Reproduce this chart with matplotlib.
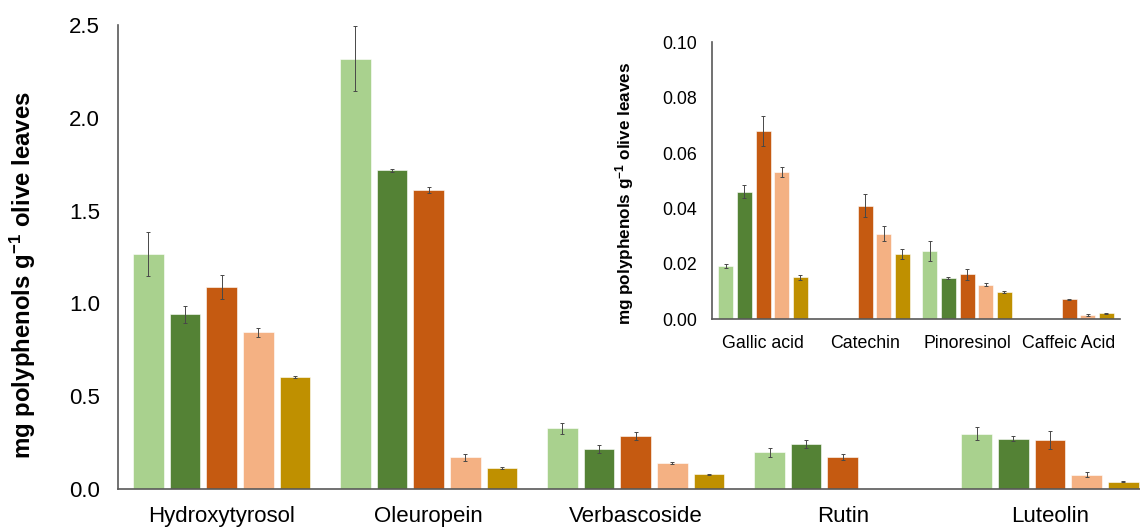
import numpy as np
import matplotlib
matplotlib.use("Agg")
import matplotlib.pyplot as plt

plt.rcParams['font.family'] = ['Liberation Sans', 'DejaVu Sans']
plt.rcParams['mathtext.fontset'] = 'custom'
plt.rcParams['mathtext.rm'] = 'Liberation Sans'
plt.rcParams['mathtext.bf'] = 'Liberation Sans:bold'

colors = ['#a9d18e', '#548235', '#c55a11', '#f4b183', '#bf9000']

# main chart
main_cats = ['Hydroxytyrosol', 'Oleuropein', 'Verbascoside', 'Rutin', 'Luteolin']
main_vals = [
    [1.267, 2.318, 0.327, 0.197, 0.298],
    [0.941, 1.716, 0.215, 0.244, 0.271],
    [1.086, 1.61, 0.286, 0.172, 0.266],
    [0.845, 0.172, 0.139, 0.0, 0.078],
    [0.605, 0.112, 0.08, 0.0, 0.04],
]
main_err = [
    [0.12, 0.175, 0.03, 0.022, 0.034],
    [0.045, 0.01, 0.022, 0.022, 0.015],
    [0.065, 0.015, 0.023, 0.016, 0.048],
    [0.025, 0.019, 0.004, 0.0, 0.012],
    [0.005, 0.004, 0.003, 0.0, 0.003],
]

# inset chart
ins_cats = ['Gallic acid', 'Catechin', 'Pinoresinol', 'Caffeic Acid']
ins_vals = [
    [0.0193, 0.0, 0.0248, 0.0],
    [0.0461, 0.0, 0.0150, 0.0],
    [0.0680, 0.0410, 0.0162, 0.0072],
    [0.0532, 0.0308, 0.0125, 0.0015],
    [0.0152, 0.0236, 0.0099, 0.0022],
]
ins_err = [
    [0.0007, 0.0, 0.0036, 0.0],
    [0.0022, 0.0, 0.0003, 0.0],
    [0.0053, 0.0042, 0.0019, 0.0002],
    [0.0018, 0.0027, 0.0006, 0.0003],
    [0.0009, 0.0017, 0.0004, 0.0001],
]

ylab = r'mg polyphenols g$\mathbf{^{-1}}$ olive leaves'
axis_col = '#595959'


def grouped(ax, cats, vals, errs, step, width, cap):
    x = np.arange(len(cats))
    for j in range(len(vals)):
        pos = x + (j - 2) * step
        ax.bar(pos, vals[j], width, color=colors[j], edgecolor='white', linewidth=0.4, zorder=2)
        e = np.array(errs[j])
        m = e > 0
        ax.errorbar(pos[m], np.array(vals[j])[m], yerr=e[m], fmt='none',
                    ecolor='#484848', elinewidth=0.7, capsize=cap, capthick=0.7, zorder=3)
    ax.set_xticks(x)
    ax.set_xticklabels(cats)
    for s in ['top', 'right']:
        ax.spines[s].set_visible(False)
    for s in ['left', 'bottom']:
        ax.spines[s].set_color(axis_col)
        ax.spines[s].set_linewidth(1.2)
    ax.tick_params(length=0)


fig = plt.figure(figsize=(11.4, 5.27), dpi=100)
ax = fig.add_axes([0.1035, 0.0721, 0.8965, 0.8805])
grouped(ax, main_cats, main_vals, main_err, 0.177, 0.148, 1.5)
ax.set_xlim(-0.5, 4.435)
ax.set_ylim(0, 2.5)
ax.set_yticks([0, 0.5, 1.0, 1.5, 2.0, 2.5])
ax.set_yticklabels(['0.0', '0.5', '1.0', '1.5', '2.0', '2.5'])
ax.tick_params(axis='y', labelsize=16, pad=13)
ax.tick_params(axis='x', labelsize=16, pad=12)
ax.set_ylabel(ylab, fontsize=17.3, fontweight='bold')
ax.yaxis.set_label_coords(-0.078, 0.461)

axi = fig.add_axes([0.6246, 0.394, 0.3579, 0.526])
axi.patch.set_alpha(0)
grouped(axi, ins_cats, ins_vals, ins_err, 0.183, 0.147, 1.2)
axi.set_xlim(-0.5, 3.5)
axi.set_ylim(0, 0.1)
axi.set_yticks([0, 0.02, 0.04, 0.06, 0.08, 0.10])
axi.set_yticklabels(['0.00', '0.02', '0.04', '0.06', '0.08', '0.10'])
axi.tick_params(axis='y', labelsize=12.8, pad=11)
axi.tick_params(axis='x', labelsize=12.8, pad=11)
axi.set_ylabel(ylab, fontsize=12.3, fontweight='bold')
axi.yaxis.set_label_coords(-0.186, 0.455)

fig.savefig('out.png', dpi=100)
